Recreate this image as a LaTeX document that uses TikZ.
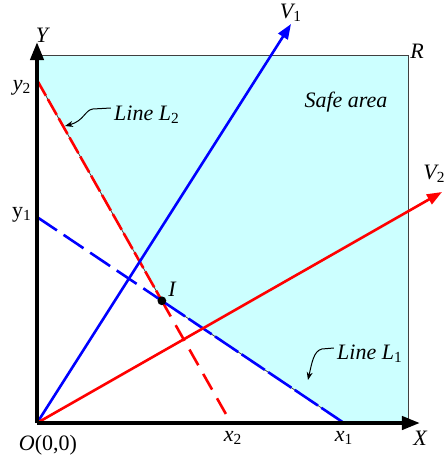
\documentclass[tikz,border=0pt]{standalone}
\usepackage{fontspec}
\setmainfont{Liberation Serif}
\usetikzlibrary{arrows.meta,calc}
\definecolor{safecyan}{RGB}{204,255,255}
\newcommand{\sbs}[1]{\textsubscript{\upshape #1}}

\begin{document}
\begin{tikzpicture}
  [x=0.5pt,y=-0.5pt,
   every node/.style={font=\itshape\fontsize{11}{13}\selectfont,inner sep=0pt},
   border/.style={draw=black!75,line width=0.4pt},
   axis/.style={line width=2pt,-{Triangle[length=9pt,width=6.5pt]}},
   velo/.style={line width=1.3pt,-{Triangle[length=7.5pt,width=5.5pt]}},
   pointer/.style={line width=0.5pt,-{Stealth[length=4pt,width=3pt]}}]
  \useasboundingbox (0,0) rectangle (447,457);

  % main points
  \coordinate (O)  at (37,423);
  \coordinate (y1) at (37,217);
  \coordinate (y2) at (37,80);
  \coordinate (x1) at (344,423);
  \coordinate (x2) at (231,423);
  \coordinate (tl) at (37,55);
  \coordinate (R)  at (408,55);
  \coordinate (br) at (408,423);
  \coordinate (I)  at (intersection of y1--x1 and y2--x2);
  \coordinate (v1) at (291,24);
  \coordinate (v2) at (442,192);
  \coordinate (Xend) at (420,423);
  \coordinate (Yend) at (37,42);

  % safe area
  \fill[safecyan] (tl) -- (R) -- (br) -- (x1) -- (I) -- (y2) -- cycle;
  \draw[border] (tl) -- (R) -- (br);
  \draw[border] (x1) -- (I) -- (y2);

  % lines L1 and L2
  \draw[red,line width=1.3pt,dash pattern=on 9pt off 2pt] (y2) -- (I);
  \draw[red,line width=1.3pt,dash pattern=on 9pt off 5pt] (I) -- (x2);
  \draw[blue,line width=1.3pt,dash pattern=on 12pt off 4pt] (y1) -- (I);
  \draw[blue,line width=1.3pt,dash pattern=on 14pt off 2pt] (I) -- (x1);

  % velocities
  \draw[velo,blue] (O) -- (v1);
  \draw[velo,red] (O) -- (v2);

  % axes
  \draw[axis] (O) -- (Xend);
  \draw[axis] (O) -- (Yend);

  \node[circle,fill=black,minimum size=4.4pt] (Idot) at (I) {};

  % labels
  \node (lY)  at (42,35)  {Y};
  \node (ly2) at (22,88)  {y\sbs{2}};
  \node (ly1) at (22,215) {\upshape y\sbs{1}};
  \node (lO)  at (48,445) {O\upshape(0,0)};
  \node (lx2) at (233,438) {x\sbs{2}};
  \node (lx1) at (344,438) {x\sbs{1}};
  \node (lX)  at (420,438) {X};
  \node (lR)  at (417,51)  {R};
  \node (lV1) at (291,13)  {V\sbs{1}};
  \node[anchor=east] (lV2) at (446,174) {V\sbs{2}};
  \node (lI)  at (172,289) {I};
  \node (safe) at (346,102) {Safe area};
  \node (lineL2) at (147,115) {Line L\sbs{2}};
  \node (lineL1) at (370,354) {Line L\sbs{1}};

  % pointers
  \coordinate (p2) at (65,126);
  \coordinate (p1) at (308,380);
  \draw[pointer] (lineL2.west) ++(-3,-7) -- ++(-18,1)
    .. controls +(-8,1) and (84,121) .. (p2);
  \draw[pointer] (lineL1.west) ++(-3,-6) -- ++(-12,1)
    .. controls +(-8,2) and (312,362) .. (p1);
\end{tikzpicture}
\end{document}
